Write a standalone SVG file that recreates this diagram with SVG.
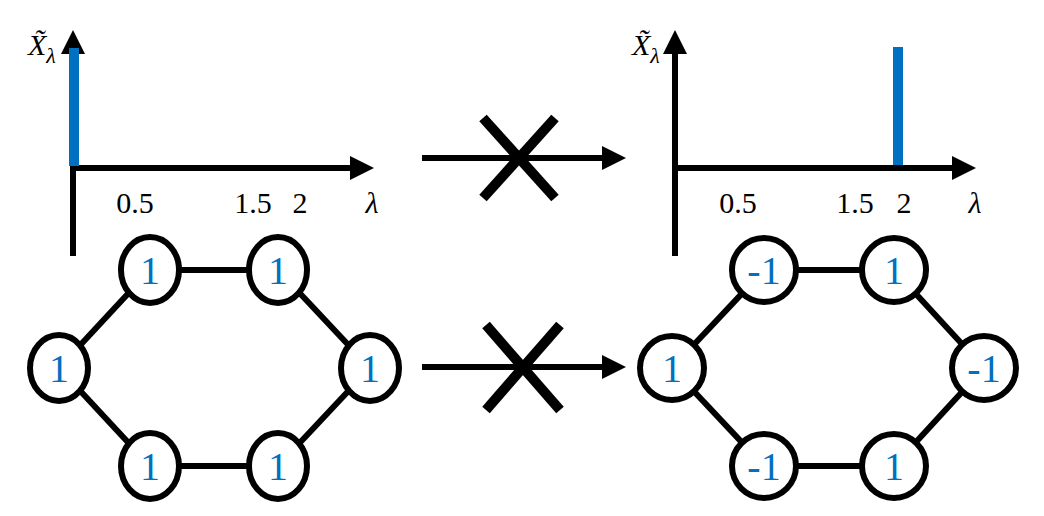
<svg xmlns="http://www.w3.org/2000/svg" width="1044" height="516" viewBox="0 0 1044 516">
<defs>
<marker id="ah" markerWidth="4" markerHeight="4" refX="1" refY="2" orient="auto" markerUnits="strokeWidth"><path d="M0,0 L4,2 L0,4 Z" fill="#000"/></marker>
</defs>
<style>
.ax{stroke:#000;stroke-width:6;fill:none}
.bar{fill:#0070C0}
.nd{fill:#fff;stroke:#000;stroke-width:6}
.ed{stroke:#000;stroke-width:6}
.x{stroke:#000;stroke-width:10}
</style>
<rect width="1044" height="516" fill="#fff"/>
<g id="chart-left" font-family="Liberation Serif, DejaVu Serif, serif" font-size="30" fill="#000">
<line class="ax" x1="73" y1="256" x2="73" y2="48" marker-end="url(#ah)"/>
<line class="ax" x1="73" y1="168" x2="356" y2="168" marker-end="url(#ah)"/>
<rect class="bar" x="69" y="48" width="10" height="118"/>
<text font-style="italic" x="28" y="55">X̃<tspan font-size="22" dy="8">λ</tspan></text>
<text x="135" y="213" text-anchor="middle">0.5</text>
<text x="253" y="213" text-anchor="middle">1.5</text>
<text x="300" y="213" text-anchor="middle">2</text>
<text font-style="italic" x="372" y="213" text-anchor="middle">λ</text>
</g>
<g id="chart-right" font-family="Liberation Serif, DejaVu Serif, serif" font-size="30" fill="#000">
<line class="ax" x1="675" y1="256" x2="675" y2="48" marker-end="url(#ah)"/>
<line class="ax" x1="675" y1="168" x2="958" y2="168" marker-end="url(#ah)"/>
<rect class="bar" x="893" y="47" width="10" height="118"/>
<text font-style="italic" x="632" y="55">X̃<tspan font-size="22" dy="8">λ</tspan></text>
<text x="738" y="213" text-anchor="middle">0.5</text>
<text x="855" y="213" text-anchor="middle">1.5</text>
<text x="904" y="213" text-anchor="middle">2</text>
<text font-style="italic" x="975" y="213" text-anchor="middle">λ</text>
</g>
<g id="connectors">
<line class="ax" x1="422" y1="158" x2="608" y2="158" marker-end="url(#ah)"/>
<line class="x" x1="483" y1="118" x2="555" y2="198"/>
<line class="x" x1="555" y1="118" x2="483" y2="198"/>
<line class="ax" x1="422" y1="367" x2="608" y2="367" marker-end="url(#ah)"/>
<line class="x" x1="486" y1="325" x2="560" y2="410"/>
<line class="x" x1="560" y1="325" x2="486" y2="410"/>
<line class="ed" x1="59" y1="368" x2="150" y2="270"/>
<line class="ed" x1="150" y1="270" x2="278" y2="270"/>
<line class="ed" x1="278" y1="270" x2="370" y2="368"/>
<line class="ed" x1="370" y1="368" x2="278" y2="466"/>
<line class="ed" x1="278" y1="466" x2="150" y2="466"/>
<line class="ed" x1="150" y1="466" x2="59" y2="368"/>
<line class="ed" x1="672" y1="368" x2="764" y2="270"/>
<line class="ed" x1="764" y1="270" x2="894" y2="270"/>
<line class="ed" x1="894" y1="270" x2="984" y2="368"/>
<line class="ed" x1="984" y1="368" x2="894" y2="466"/>
<line class="ed" x1="894" y1="466" x2="764" y2="466"/>
<line class="ed" x1="764" y1="466" x2="672" y2="368"/>
</g>
<g id="nodes" font-family="Liberation Serif, DejaVu Serif, serif" font-size="40" fill="#0070C0" text-anchor="middle">
<g id="L1"><ellipse class="nd" cx="59" cy="368" rx="29" ry="33"/><text x="59" y="382">1</text></g>
<g id="L2"><ellipse class="nd" cx="150" cy="270" rx="29" ry="33"/><text x="150" y="284">1</text></g>
<g id="L3"><ellipse class="nd" cx="278" cy="270" rx="29" ry="33"/><text x="278" y="284">1</text></g>
<g id="L4"><ellipse class="nd" cx="370" cy="368" rx="29" ry="33"/><text x="370" y="382">1</text></g>
<g id="L5"><ellipse class="nd" cx="278" cy="466" rx="29" ry="33"/><text x="278" y="480">1</text></g>
<g id="L6"><ellipse class="nd" cx="150" cy="466" rx="29" ry="33"/><text x="150" y="480">1</text></g>
<g id="R1"><circle class="nd" cx="672" cy="368" r="32"/><text x="672" y="382">1</text></g>
<g id="R2"><circle class="nd" cx="764" cy="270" r="32"/><text x="764" y="284">-1</text></g>
<g id="R3"><circle class="nd" cx="894" cy="270" r="32"/><text x="894" y="284">1</text></g>
<g id="R4"><circle class="nd" cx="984" cy="368" r="32"/><text x="984" y="382">-1</text></g>
<g id="R5"><circle class="nd" cx="894" cy="466" r="32"/><text x="894" y="480">1</text></g>
<g id="R6"><circle class="nd" cx="764" cy="466" r="32"/><text x="764" y="480">-1</text></g>
</g>
</svg>
